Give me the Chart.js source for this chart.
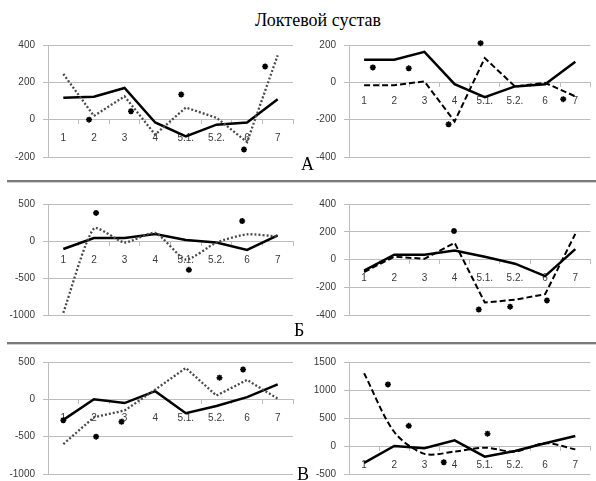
<!DOCTYPE html>
<html><head><meta charset="utf-8">
<script src="https://cdn.jsdelivr.net/npm/chart.js@4/dist/chart.umd.min.js"></script>
<style>
html,body{margin:0;padding:0;background:#fff;width:596px;height:481px;overflow:hidden;position:relative;}
canvas{position:absolute;}
.t{position:absolute;font-family:"Liberation Serif","Times New Roman",serif;color:#000;white-space:nowrap;line-height:1;z-index:5;}
.sep{position:absolute;left:7px;width:589px;height:2px;background:#7a7a7a;border-bottom:1px solid #d0d0d0;z-index:4;}
</style></head><body>
<div class="t" style="left:218px;width:200px;text-align:center;top:11px;font-size:18px;">Локтевой сустав</div>
<div class="t" style="left:301px;top:155px;font-size:18px;">А</div>
<div class="t" style="left:294px;top:321px;font-size:18px;">Б</div>
<div class="t" style="left:297px;top:465px;font-size:18px;">В</div>
<div class="sep" style="top:180px;"></div>
<div class="sep" style="top:342px;"></div>
<canvas id="aL"></canvas><canvas id="aR"></canvas>
<canvas id="bL"></canvas><canvas id="bR"></canvas>
<canvas id="vL"></canvas><canvas id="vR"></canvas>
<script>
// categories
const categories = ["1", "2", "3", "4", "5.1.", "5.2.", "6", "7"];

// Panel А
const solidA_L  = [117, 123, 170, -15, -90, -27, -15, 110];
const dottedA_L = [245, 20, 125, -80, 65, 10, -120, 345];
const starsA_L  = [{x:0.84,y:0},{x:2.21,y:45},{x:3.85,y:135},{x:5.9,y:-160},{x:6.59,y:285}];
const solidA_R  = [121, 121, 163, -10, -80, -22, -10, 110];
const dashedA_R = [-15, -15, 5, -210, 130, -22, -3, -75];
const starsA_R  = [{x:0.29,y:80},{x:1.48,y:75},{x:2.8,y:-225},{x:3.86,y:210},{x:6.6,y:-90}];

// Panel Б
const solidB_L  = [-108, 40, 40, 95, 15, -20, -120, 75];
const dottedB_L = [-970, 170, -20, 110, -250, -20, 90, 60];
const starsB_L  = [{x:1.07,y:380},{x:4.1,y:-390},{x:5.84,y:270}];
const solidB_R  = [-80, 35, 35, 65, 20, -30, -120, 75];
const dashedB_R = [-90, 20, 5, 120, -310, -290, -250, 185];
const starsB_R  = [{x:2.98,y:205},{x:3.8,y:-360},{x:4.84,y:-340},{x:6.06,y:-295}];

// Panel В
const solidV_L  = [-275, 0, -50, 110, -185, -90, 30, 200];
const dottedV_L = [-600, -240, -150, 130, 420, 50, 260, 10];
const starsV_L  = [{x:0,y:-280},{x:1.07,y:-500},{x:1.9,y:-300},{x:3.9,y:620},{x:5.1,y:290},{x:5.87,y:400}];
const solidV_R  = [-300, 0, -40, 100, -190, -90, 50, 180];
const dashedV_R = [1300, 250, -140, -100, -30, -100, 50, -60];
const starsV_R  = [{x:0.79,y:1100},{x:1.48,y:360},{x:2.64,y:-290},{x:4.09,y:220}];

// y-axis ranges [min, max, step]
const yRangeA_L = [-200, 400, 200];
const yRangeA_R = [-400, 200, 200];
const yRangeB_L = [-1000, 500, 500];
const yRangeB_R = [-400, 400, 200];
const yRangeV_L = [-1000, 500, 500];
const yRangeV_R = [-500, 1500, 500];

const GRID = '#bdbdbd';
const TICKFONT = {family: '"Liberation Sans", Arial, sans-serif', size: 10};
const TICKCOLOR = '#3a3a3a';

function styleFor(kind) {
  if (kind === 'solid') return {borderColor:'#000', borderWidth:2.5, borderDash:[]};
  if (kind === 'dotted') return {borderColor:'#4a4a4a', borderWidth:2.3, borderDash:[2,2]};
  return {borderColor:'#000', borderWidth:2, borderDash:[6,3]};
}

function panel(id, box, range, series, stars) {
  const cv = document.getElementById(id);
  const pad = 14;
  cv.width = box.w; cv.height = (box.bottom - box.top) + 2*pad;
  cv.style.left = box.x + 'px'; cv.style.top = (box.top - pad) + 'px';
  cv.style.width = box.w + 'px'; cv.style.height = cv.height + 'px';
  const datasets = series.map(s => Object.assign({
    type: 'line', data: s.data, xAxisID: 'x', yAxisID: 'y',
    pointRadius: 0, fill: false, tension: s.tension || 0, borderCapStyle: 'butt'
  }, styleFor(s.kind)));
  datasets.push({
    type: 'scatter', data: stars, xAxisID: 'xs', yAxisID: 'y',
    pointStyle: 'star', pointRadius: 3, borderWidth: 1.6,
    borderColor: '#000', backgroundColor: '#000', clip: false, showLine: false
  });
  new Chart(cv, {
    type: 'line',
    data: {labels: categories, datasets},
    options: {
      responsive: false, animation: false, devicePixelRatio: 1,
      layout: {padding: {top: pad, bottom: pad, left: 0, right: box.padRight}},
      plugins: {legend: {display: false}, tooltip: {enabled: false}, title: {display: false}},
      scales: {
        x: {
          type: 'category', offset: true, position: {y: 0},
          grid: {offset: true, drawOnChartArea: false, drawTicks: true, tickLength: 4, color: GRID},
          border: {display: true, color: GRID, width: 1},
          ticks: {padding: 9, font: TICKFONT, color: TICKCOLOR, maxRotation: 0, autoSkip: false}
        },
        xs: {type: 'linear', display: false, min: -0.5, max: 7.5},
        y: {
          type: 'linear', min: range[0], max: range[1],
          afterFit: s => { s.width = box.axisW; },
          grid: {color: GRID, tickLength: 5, lineWidth: 1},
          border: {display: true, color: GRID},
          ticks: {stepSize: range[2], font: TICKFONT, color: TICKCOLOR, padding: 8,
                  callback: v => String(v)}
        }
      }
    }
  });
}

const L = {x:0, w:300, axisW:48, padRight:7};
const R = {x:300, w:296, axisW:49, padRight:5};

panel('aL', Object.assign({top:45, bottom:157}, L), yRangeA_L,
  [{kind:'dotted', data:dottedA_L}, {kind:'solid', data:solidA_L}], starsA_L);
panel('aR', Object.assign({top:45, bottom:157}, R), yRangeA_R,
  [{kind:'dashed', data:dashedA_R}, {kind:'solid', data:solidA_R}], starsA_R);
panel('bL', Object.assign({top:204, bottom:315}, L), yRangeB_L,
  [{kind:'dotted', data:dottedB_L, tension:0.2}, {kind:'solid', data:solidB_L}], starsB_L);
panel('bR', Object.assign({top:204, bottom:315}, R), yRangeB_R,
  [{kind:'dashed', data:dashedB_R}, {kind:'solid', data:solidB_R}], starsB_R);
panel('vL', Object.assign({top:362, bottom:474}, L), yRangeV_L,
  [{kind:'dotted', data:dottedV_L}, {kind:'solid', data:solidV_L}], starsV_L);
panel('vR', Object.assign({top:362, bottom:474}, R), yRangeV_R,
  [{kind:'dashed', data:dashedV_R, tension:0.3}, {kind:'solid', data:solidV_R}], starsV_R);
</script>
</body></html>
